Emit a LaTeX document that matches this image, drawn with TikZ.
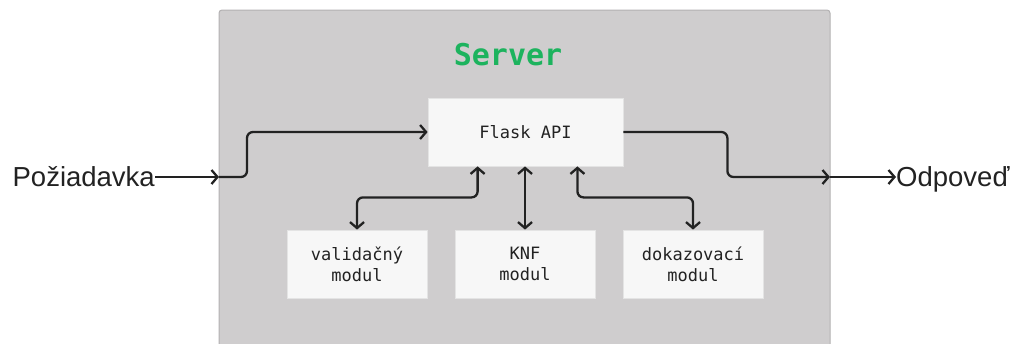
\documentclass[tikz,border=0pt]{standalone}
\usepackage{fontspec}
\setmainfont{Liberation Sans}
\setmonofont{DejaVu Sans Mono}
\usetikzlibrary{arrows.meta,calc}
\definecolor{srvfill}{HTML}{CFCDCE}
\definecolor{srvline}{HTML}{B3B1B2}
\definecolor{boxfill}{HTML}{F7F7F7}
\definecolor{boxline}{HTML}{E4E4E4}
\definecolor{ink}{HTML}{222222}
\definecolor{title}{HTML}{1DB35E}
\tikzset{
  serverbox/.style={draw=srvline, line width=1pt, fill=srvfill, rounded corners=3pt,
    minimum width=611pt, minimum height=343pt, inner sep=0pt},
  apibox/.style={draw=boxline, line width=0.8pt, fill=boxfill,
    minimum width=195pt, minimum height=68pt, inner sep=0pt,
    font=\fontsize{17}{21}\selectfont\ttfamily, text=ink, align=center},
  modbox/.style={apibox, minimum width=140pt},
  outer/.style={font=\fontsize{27.5}{32}\selectfont, text=ink, inner sep=0pt},
  flow/.style={draw=ink, line width=2.3pt, rounded corners=6pt,
    -{Straight Barb[length=6pt,width=14pt,line width=2.3pt]}},
  bothflow/.style={flow, {Straight Barb[length=6pt,width=14pt,line width=2.3pt]}-{Straight Barb[length=6pt,width=14pt,line width=2.3pt]}}
}
\begin{document}
\begin{tikzpicture}[x=1pt,y=-1pt]
  \useasboundingbox (0,0) rectangle (1016,343);
  \clip (0,0) rectangle (1016,343);

  % server frame and its title
  \node[serverbox] (server) at (524.5,181.5) {};
  \node[font=\fontsize{30}{36}\selectfont\ttfamily\bfseries, text=title] (title) at (508,55) {Server};

  % inner components
  \node[apibox] (api) at (525.5,132) {Flask API};
  \node[modbox] (val) at (357,264) {validačný\\modul};
  \node[modbox] (knf) at (525,264) {KNF\\modul};
  \node[modbox] (dok) at (693,264) {dokazovací\\modul};

  % request and response labels
  \node[outer, anchor=base east] (req) at (155,186) {Požiadavka};
  \node[outer, anchor=base west] (resp) at (896,186) {Odpoveď};

  % points where the flow crosses the server frame
  \coordinate (in1) at (219,177);
  \coordinate (out1) at (830,177);

  % incoming request
  \draw[flow] (req.east |- in1) -- (in1);
  \draw[flow] (in1) -- ++(28,0) |- (api.west);

  % outgoing response
  \draw[flow] (api.east) -- ++(104,0) |- (out1);
  \draw[flow] (out1) -- (resp.west |- out1);

  % API <-> modules
  \draw[bothflow] ($(api.south west)+(50,0)$) -- ++(0,31) -| (val.north);
  \draw[bothflow] (api.south -| knf.north) -- (knf.north);
  \draw[bothflow] ($(api.south east)+(-46,0)$) -- ++(0,31) -| (dok.north);
\end{tikzpicture}
\end{document}
